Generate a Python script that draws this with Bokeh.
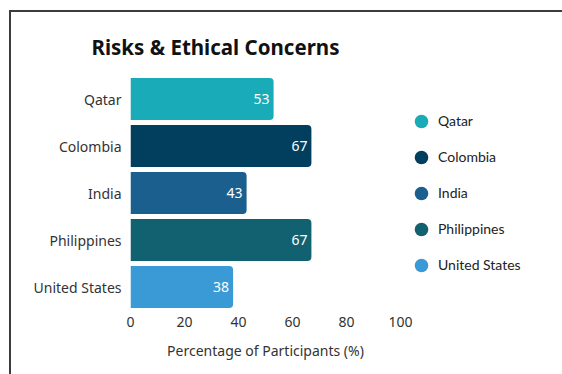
from bokeh.plotting import figure
from bokeh.models import ColumnDataSource, Range1d, FactorRange, LabelSet, Legend, LegendItem, FixedTicker
from bokeh.core.properties import value
from bokeh.embed import file_html
from bokeh.resources import INLINE

countries = ["Qatar", "Colombia", "India", "Philippines", "United States"]
values = [53, 67, 43, 67, 38]
colors = ["#1AABB8", "#023F5F", "#1A5F8E", "#126170", "#3A9AD5"]
x_ticks = [0, 20, 40, 60, 80, 100]

FONT = "Noto Sans"

src = ColumnDataSource(dict(country=countries, value=values, color=colors,
                            label=[str(v) for v in values]))

p = figure(frame_width=270, frame_height=235, output_backend="svg", toolbar_location=None,
           x_range=Range1d(0, 100), y_range=FactorRange(*countries[::-1]),
           min_border_left=119, min_border_right=160, min_border_top=63, min_border_bottom=64,
           title="Risks & Ethical Concerns")
p.styles = {"border-left": "2px solid #3c3c3c", "border-top": "2px solid #3c3c3c",
            "margin-left": "9px", "margin-top": "10px"}

p.title.text_font = FONT
p.title.text_font_size = "20.5px"
p.title.text_font_style = "bold"
p.title.text_color = "#111111"
p.title.offset = -39
p.title.standoff = 29

p.outline_line_color = None
p.xgrid.grid_line_color = None
p.ygrid.grid_line_color = None

bars = p.hbar(y="country", right="value", left=0, height=0.89, source=src,
              fill_color="color", line_color=None, border_radius=(0, 4, 4, 0))

labels = LabelSet(x="value", y="country", text="label", source=src, x_offset=-4,
                  text_align="right", text_baseline="middle", text_color="white",
                  text_font_size="14px", text_font=value(FONT))
p.add_layout(labels)

p.xaxis.ticker = FixedTicker(ticks=x_ticks)
p.xaxis.axis_label = "Percentage of Participants (%)"
for ax in (p.xaxis, p.yaxis):
    ax.axis_line_color = None
    ax.major_tick_line_color = None
    ax.minor_tick_line_color = None
    ax.major_label_text_font = FONT
    ax.major_label_text_font_size = "14px"
    ax.major_label_text_color = "#333333"
p.xaxis.major_label_standoff = 0
p.yaxis.major_label_standoff = 3
p.xaxis.axis_label_text_font = FONT
p.xaxis.axis_label_text_font_size = "14px"
p.xaxis.axis_label_text_font_style = "normal"
p.xaxis.axis_label_text_color = "#333333"
p.xaxis.axis_label_standoff = 11

items = []
for i, c in enumerate(countries):
    r = p.scatter(x=[values[i]], y=[c], marker="circle", size=15,
                  fill_color=colors[i], line_color=None)
    r.visible = False
    items.append(LegendItem(label=c, renderers=[r]))

legend = Legend(items=items, location="center_left", border_line_color=None,
                background_fill_alpha=0, inactive_fill_alpha=0,
                glyph_width=34, glyph_height=36, spacing=0, label_standoff=0,
                margin=4, padding=10,
                label_text_font="Lato", label_text_font_size="14px",
                label_text_color="#222222")
p.add_layout(legend, "right")

open("out.html", "w").write(file_html(p, INLINE))
